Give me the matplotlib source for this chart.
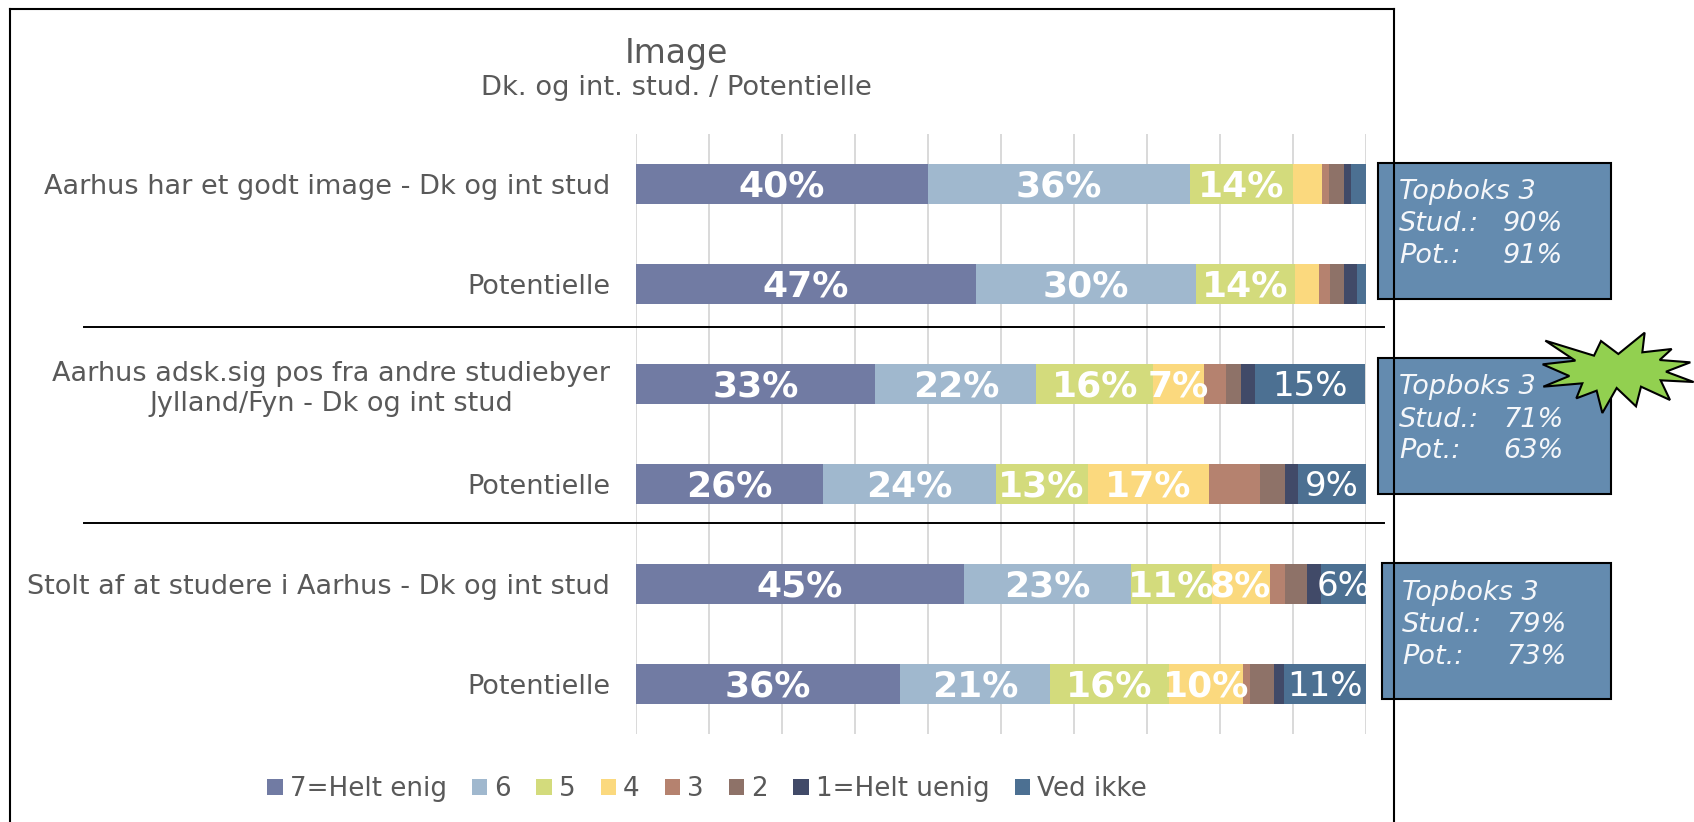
import matplotlib
matplotlib.use("Agg")
import matplotlib.pyplot as plt
from matplotlib.patches import Rectangle, Polygon, Patch

plt.rcParams['font.family'] = ['DejaVu Sans']

W, H = 1694, 822
GREY = '#595959'

categories = [
    'Aarhus har et godt image - Dk og int stud',
    'Potentielle',
    'Aarhus adsk.sig pos fra andre studiebyer\nJylland/Fyn - Dk og int stud',
    'Potentielle',
    'Stolt af at studere i Aarhus - Dk og int stud',
    'Potentielle',
]

series_names = ['7=Helt enig', '6', '5', '4', '3', '2', '1=Helt uenig', 'Ved ikke']
colors = ['#717BA3', '#A0B8CE', '#D3DB7C', '#FBD97E', '#B5826F', '#8E7268', '#414A68', '#4C7092']

s7 = [40.0, 46.6, 32.8, 25.6, 44.9, 36.2]
s6 = [36.0, 30.1, 22.1, 23.7, 23.0, 20.6]
s5 = [14.0, 13.6, 16.0, 12.6, 11.0, 16.2]
s4 = [4.0, 3.3, 7.0, 16.7, 8.0, 10.2]
s3 = [1.0, 1.5, 3.0, 7.0, 2.1, 1.0]
s2 = [2.1, 1.9, 2.0, 3.3, 3.0, 3.3]
s1 = [0.9, 1.9, 1.9, 1.9, 1.9, 1.3]
ved_ikke = [2.1, 1.5, 15.1, 9.4, 6.1, 11.3]
all_series = [s7, s6, s5, s4, s3, s2, s1, ved_ikke]

title = 'Image'
subtitle = 'Dk. og int. stud. / Potentielle'
topboks = [('90%', '91%'), ('71%', '63%'), ('79%', '73%')]

fig = plt.figure(figsize=(W / 100, H / 100), dpi=100)
ax = fig.add_axes([636 / W, 1 - 734 / H, 729.5 / W, 600 / H])

y = list(range(len(categories)))
left = [0.0] * len(categories)
for i, (vals, name, col) in enumerate(zip(all_series, series_names, colors)):
    bars = ax.barh(y, vals, left=left, height=0.4, color=col, label=name, zorder=3)
    left = [a + b for a, b in zip(left, vals)]
    # kun de store segmenter har label, 3/2/1 har ingen
    if i in (0, 1, 2, 3, 7):
        labels = [f'{v:.0f}%' if v >= 5 else '' for v in vals]
        anns = ax.bar_label(bars, labels=labels, label_type='center', color='white', zorder=4,
                            fontsize=24.5 if i == 7 else 26, fontweight='normal' if i == 7 else 'bold')
        for a in anns:
            a.xyann = (0, -2)

ax.set_xlim(0, 100)
ax.set_ylim(5.5, -0.5)
ax.set_xticks(range(0, 101, 10))
ax.tick_params(axis='x', length=0, labelbottom=False)
ax.tick_params(axis='y', length=0, pad=18.5)
ax.set_yticks(y)
ax.set_yticklabels(categories, fontsize=19.5, color=GREY, ha='right', multialignment='center')
ax.grid(axis='x', color='#D9D9D9', lw=1.4, zorder=0)
for sp in ax.spines.values():
    sp.set_visible(False)
ax.patch.set_alpha(0)

# overlay i pixel-koordinater til ramme, bokse og stjerne
ov = fig.add_axes([0, 0, 1, 1], zorder=5)
ov.set_xlim(0, W)
ov.set_ylim(H, 0)
ov.axis('off')

ov.plot([9.5, 9.5], [H, 9], color='black', lw=1.5)
ov.plot([9.5, 1394.3], [9, 9], color='black', lw=1.5, solid_capstyle='projecting')
ov.plot([1394.3, 1394.3], [9, H], color='black', lw=1.5)
ov.plot([84, 1384], [326.7, 326.7], color='black', lw=1.4)
ov.plot([84, 1384], [522.7, 522.7], color='black', lw=1.4)

ov.text(676, 63, title, ha='center', va='baseline', fontsize=23.8, color=GREY)
ov.text(676, 95, subtitle, ha='center', va='baseline', fontsize=19.7, color=GREY)

box_geom = [(1378.3, 162.7, 1610.7, 299), (1378.3, 358, 1610.7, 494), (1382, 563.3, 1610.7, 699.3)]
text_geom = [(1399, (199, 231, 263)), (1399, (394, 427, 458)), (1402, (600, 632, 664))]
for (x0, y0, x1, y1), (tx, bases), (stud, pot) in zip(box_geom, text_geom, topboks):
    ov.add_patch(Rectangle((x0, y0), x1 - x0, y1 - y0, facecolor='#648BAF', edgecolor='black', lw=1.5))
    rows = [('Topboks 3', ''), ('Stud.:', stud), ('Pot.:', pot)]
    for (head, pct), b in zip(rows, bases):
        ov.text(tx, b, head, ha='left', va='baseline', fontsize=19.5, style='italic', color='#F5F7FA')
        ov.text(tx + 104, b, pct, ha='left', va='baseline', fontsize=19.5, style='italic', color='#F5F7FA')

star = [(46, 62), (192, 107), (213, 63), (265, 102), (344, 38), (337, 97), (425, 87), (389, 120),
        (481, 127), (408, 155), (491, 186), (392, 181), (420, 240), (333, 200), (318, 259),
        (260, 204), (217, 279), (200, 212), (139, 235), (157, 190), (40, 200), (118, 168),
        (38, 133), (136, 122)]
ov.add_patch(Polygon([(1530 + a / 3, 320 + b / 3) for a, b in star], closed=True,
                     facecolor='#92D050', edgecolor='black', lw=1.5, joinstyle='miter'))

handles = [Patch(facecolor=c, label=n) for c, n in zip(colors, series_names)]
fig.legend(handles=handles, ncol=8, loc='center', bbox_to_anchor=(707 / W, 1 - 789 / H),
           frameon=False, fontsize=18.8, labelcolor=GREY, handlelength=0.585, handleheight=0.585,
           handletextpad=0.27, columnspacing=0.97, borderpad=0)

fig.savefig('out.png', dpi=100)
